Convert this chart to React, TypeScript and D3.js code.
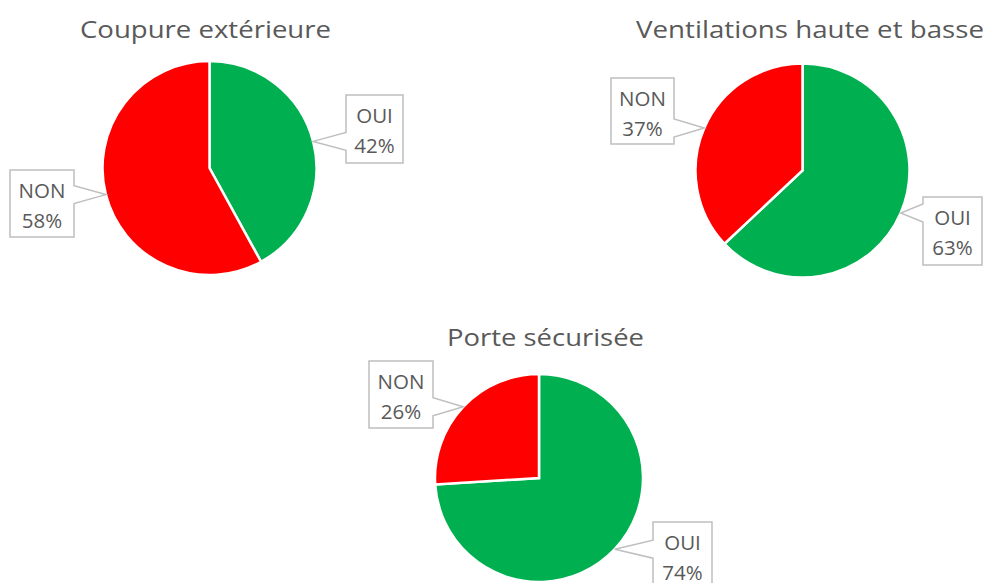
import React from "react";
import * as d3 from "d3";

const chartTitles = ["Coupure extérieure", "Ventilations haute et basse", "Porte sécurisée"];
const categories = ["OUI", "NON"];
const ouiValues = [42, 63, 74];
const nonValues = [58, 37, 26];
const sliceColors = ["#00b050", "#ff0000"];

// layout (not data)
const layouts = [
  { cx: 209.5, cy: 168, r: 107, titleX: 205.5, titleY: 38, titleW: 251, boxes: [{ x: 346, y: 95, w: 57, h: 68 }, { x: 10, y: 170, w: 64, h: 67 }] },
  { cx: 802.5, cy: 170.5, r: 107, titleX: 810, titleY: 38, titleW: 348, boxes: [{ x: 923, y: 197, w: 59, h: 68 }, { x: 611, y: 78, w: 63, h: 66 }] },
  { cx: 539, cy: 478, r: 104, titleX: 545.5, titleY: 346, titleW: 197, boxes: [{ x: 653, y: 522, w: 59, h: 68 }, { x: 369, y: 361, w: 64, h: 67 }] },
];

const FONT = "'Open Sans', 'Noto Sans', sans-serif";
const TEXT = "#595959";
const BOX = "#bfbfbf";

function Callout({ box, tip, label, pct }: any) {
  const { x, y, w, h } = box;
  const half = 9;
  const by0 = Math.max(y + 2, tip[1] - half);
  const by1 = Math.min(y + h - 2, tip[1] + half);
  let d: string;
  if (tip[0] < x) {
    d = `M${x},${y} L${x + w},${y} L${x + w},${y + h} L${x},${y + h} L${x},${by1} L${tip[0]},${tip[1]} L${x},${by0} Z`;
  } else {
    d = `M${x},${y} L${x + w},${y} L${x + w},${by0} L${tip[0]},${tip[1]} L${x + w},${by1} L${x + w},${y + h} L${x},${y + h} Z`;
  }
  return (
    <g>
      <path d={d} fill="#fff" stroke={BOX} strokeWidth={1.5} />
      <text x={x + w / 2} y={y + 28} textAnchor="middle" fontFamily={FONT} fontSize={20.5} fill={TEXT}>{label}</text>
      <text x={x + w / 2} y={y + 58} textAnchor="middle" fontFamily={FONT} fontSize={20.5} fill={TEXT}>{pct}</text>
    </g>
  );
}

function Pie({ idx }: { idx: number }) {
  const L = layouts[idx];
  const values = [ouiValues[idx], nonValues[idx]];
  const total = d3.sum(values);
  const pie = d3.pie<number>().sort(null).value((d) => d);
  const arcs = pie(values);
  const arc = d3.arc<d3.PieArcDatum<number>>().innerRadius(0).outerRadius(L.r);
  const edge = d3.arc<d3.PieArcDatum<number>>().innerRadius(L.r).outerRadius(L.r);
  return (
    <g>
      <text x={L.titleX} y={L.titleY} textAnchor="middle" fontFamily={FONT} fontSize={24} fill={TEXT}
        textLength={L.titleW} lengthAdjust="spacingAndGlyphs">{chartTitles[idx]}</text>
      <g transform={`translate(${L.cx},${L.cy})`}>
        {arcs.map((a, i) => (
          <path key={i} d={arc(a) || ""} fill={sliceColors[i]} stroke="#fff" strokeWidth={2.5} strokeLinejoin="miter" />
        ))}
      </g>
      {arcs.map((a, i) => {
        const c = edge.centroid(a);
        const tip = [L.cx + c[0], L.cy + c[1]];
        const pct = Math.round((values[i] / total) * 100) + "%";
        return <Callout key={i} box={L.boxes[i]} tip={tip} label={categories[i]} pct={pct} />;
      })}
    </g>
  );
}

export default function App() {
  return (
    <svg width={986} height={583} style={{ position: "absolute", left: 0, top: 0, background: "#fff" }}>
      <rect width={986} height={583} fill="#fff" />
      {layouts.map((_, i) => <Pie key={i} idx={i} />)}
    </svg>
  );
}
